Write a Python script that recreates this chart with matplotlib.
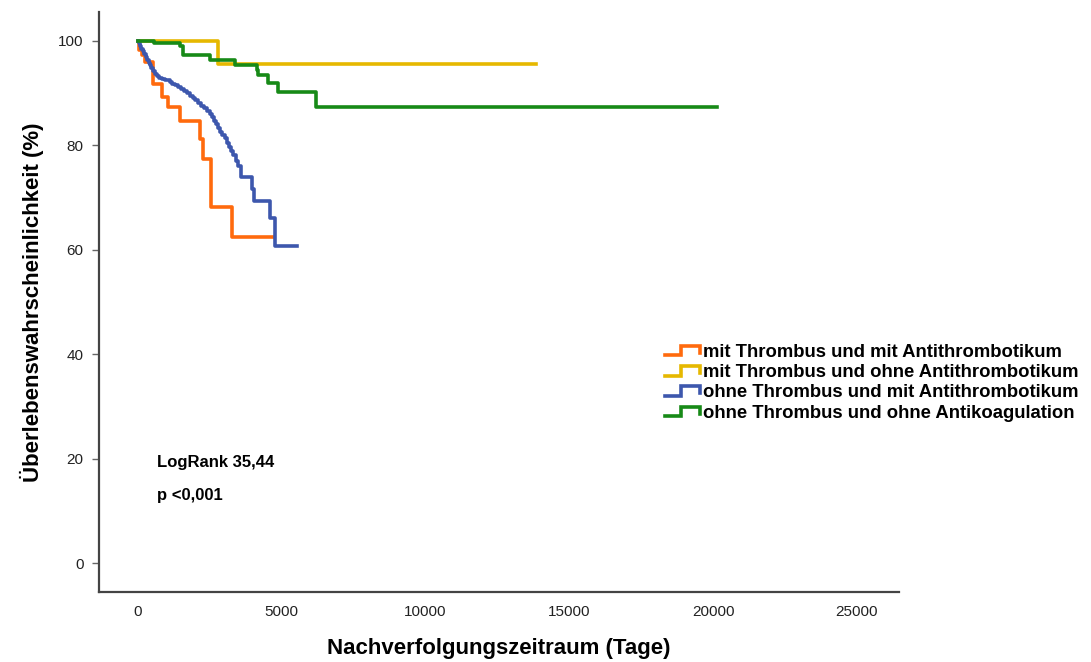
import matplotlib
matplotlib.use("Agg")
import matplotlib.pyplot as plt
from matplotlib.lines import Line2D
from matplotlib.legend_handler import HandlerBase

plt.rcParams['font.family'] = ['Liberation Sans', 'DejaVu Sans']

# Kaplan-Meier Stufen (Zeit in Tagen, Überleben in %)
orange_t = [0, 50, 150, 260, 540, 830, 1060, 1470, 2150, 2260, 2540, 3260, 4700]
orange_s = [100, 98.2, 97.2, 96.0, 91.7, 89.3, 87.3, 84.7, 81.2, 77.3, 68.2, 62.4, 62.4]

yellow_t = [0, 2790, 13840]
yellow_s = [100, 95.5, 95.5]

blue_t = [0, 40, 80, 120, 170, 220, 270, 320, 370, 420, 470, 530, 590, 650, 720, 820,
          950, 1100, 1200, 1300, 1400, 1500, 1600, 1700, 1800, 1900, 2000, 2100, 2200,
          2300, 2400, 2500, 2580, 2650, 2720, 2790, 2860, 2930, 3010, 3090, 3160, 3230,
          3310, 3400, 3480, 3600, 3950, 4030, 4600, 4780, 5520]
blue_s = [100, 99.5, 99.0, 98.5, 98.0, 97.4, 96.9, 96.4, 95.8, 95.3, 94.8, 94.3, 93.7,
          93.2, 92.9, 92.6, 92.4, 92.1, 91.8, 91.5, 91.2, 90.8, 90.4, 90.0, 89.5, 89.1,
          88.6, 88.1, 87.6, 87.1, 86.5, 86.0, 85.4, 84.7, 84.0, 83.3, 82.6, 82.0, 81.3,
          80.5, 79.7, 78.9, 78.1, 77.0, 76.1, 74.0, 71.7, 69.4, 66.0, 60.8, 60.8]

green_t = [0, 556, 1460, 1576, 2503, 3373, 4127, 4185, 4532, 4880, 6190, 20150]
green_s = [100, 99.5, 98.9, 97.3, 96.3, 95.4, 94.4, 93.4, 91.9, 90.2, 87.4, 87.4]

labels = ["mit Thrombus und mit Antithrombotikum",
          "mit Thrombus und ohne Antithrombotikum",
          "ohne Thrombus und mit Antithrombotikum",
          "ohne Thrombus und ohne Antikoagulation"]
colors = ["#FF6A0D", "#E6B800", "#3D57AD", "#178A17"]

x_ticks = [0, 5000, 10000, 15000, 20000, 25000]
y_ticks = [0, 20, 40, 60, 80, 100]


class StepHandler(HandlerBase):
    def create_artists(self, legend, orig_handle, xdescent, ydescent,
                       width, height, fontsize, trans):
        xs = [0, 0.45, 0.45, 0.95, 0.95]
        ys = [0.1, 0.1, 0.85, 0.85, 0.3]
        line = Line2D([-xdescent + x * width for x in xs],
                      [-ydescent + y * height for y in ys],
                      color=orig_handle.get_color(), lw=2.6,
                      solid_joinstyle='miter', transform=trans)
        return [line]


fig = plt.figure(figsize=(10.91, 6.62), dpi=100)
ax = fig.add_axes([0.0907, 0.1057, 0.7333, 0.8762])

series = [(orange_t, orange_s), (yellow_t, yellow_s), (blue_t, blue_s), (green_t, green_s)]
handles = []
for (t, s), c, lab in zip(series, colors, labels):
    h, = ax.step(t, s, where='post', color=c, lw=2.6, label=lab)
    handles.append(h)

ax.set_xlim(-1356, 26460)
ax.set_ylim(-5.5, 105.5)
ax.set_xticks(x_ticks)
ax.set_yticks(y_ticks)
ax.tick_params(axis='x', length=0, pad=9, labelsize=11, colors='#222222')
ax.tick_params(axis='y', length=5, width=1, color='#666666', pad=6, labelsize=11,
               labelcolor='#222222')

for side in ['top', 'right']:
    ax.spines[side].set_visible(False)
for side in ['left', 'bottom']:
    ax.spines[side].set_color('#444444')
    ax.spines[side].set_linewidth(1.6)

ax.set_xlabel("Nachverfolgungszeitraum (Tage)", fontsize=16, fontweight='bold', labelpad=14)
ax.set_ylabel("Überlebenswahrscheinlichkeit (%)", fontsize=16, fontweight='bold', labelpad=10)

ax.text(0.072, 0.224, "LogRank 35,44", transform=ax.transAxes, fontsize=12,
        fontweight='bold', va='center')
ax.text(0.072, 0.167, "p <0,001", transform=ax.transAxes, fontsize=12,
        fontweight='bold', va='center')

leg = fig.legend(handles=handles, labels=labels, loc='center left',
                 bbox_to_anchor=(0.594, 0.422), frameon=False,
                 prop={'weight': 'bold', 'size': 13.3}, handlelength=2.0,
                 handletextpad=0.08, labelspacing=0.18,
                 handler_map={Line2D: StepHandler()})

fig.savefig("out.png", dpi=100)
